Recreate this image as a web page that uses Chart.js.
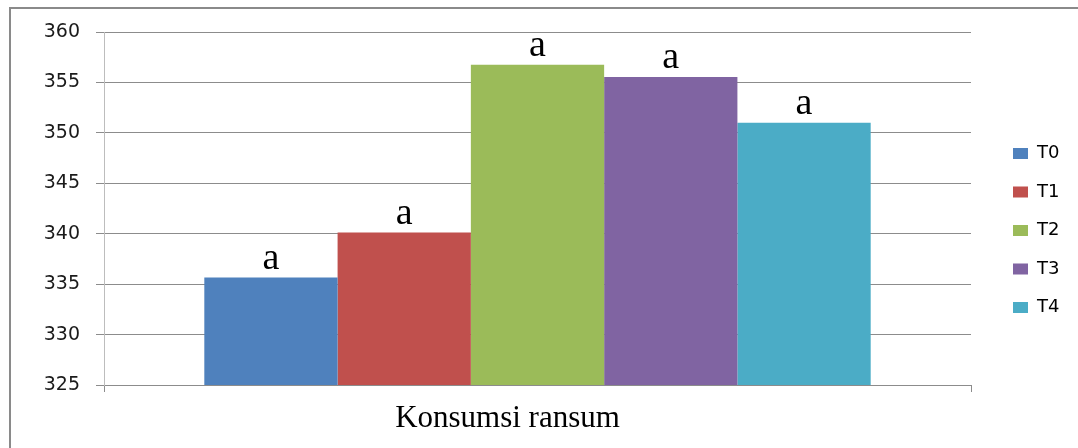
<!DOCTYPE html>
<html><head><meta charset="utf-8">
<script src="https://cdn.jsdelivr.net/npm/chart.js@4"></script>
<style>
html,body{margin:0;padding:0;background:#fff;overflow:hidden;}
canvas{display:block;}
</style></head><body>
<canvas id="c" width="1078" height="448"></canvas>
<script>
// ---- data ----
const categories = ['Konsumsi ransum'];
const seriesNames = ['T0', 'T1', 'T2', 'T3', 'T4'];
const valuesT0 = [335.65];
const valuesT1 = [340.12];
const valuesT2 = [356.76];
const valuesT3 = [355.54];
const valuesT4 = [351.0];
const letterLabels = ['a', 'a', 'a', 'a', 'a'];
const yTickMin = 325, yTickMax = 360, yTickStep = 5;

// ---- styles ----
const seriesColors = ['#4F81BD', '#C0504D', '#9BBB59', '#8064A2', '#4BACC6'];
const allValues = [valuesT0, valuesT1, valuesT2, valuesT3, valuesT4];

const LEG_FONT = 18, LEG_PAD = 20.5, LEG_BOX_X = 1013, LEG_FIRST_CENTER = 153.5, LEG_W = 107;

const framePlugin = {
  id: 'frame',
  beforeDraw(chart) {
    const ctx = chart.ctx;
    ctx.save();
    ctx.fillStyle = '#fff';
    ctx.fillRect(0, 0, chart.width, chart.height);
    ctx.strokeStyle = '#8a8a8a';
    ctx.lineWidth = 2;
    ctx.beginPath();
    ctx.moveTo(10, chart.height + 2);
    ctx.lineTo(10, 8);
    ctx.lineTo(chart.width + 2, 8);
    ctx.stroke();
    ctx.restore();
  }
};

const letterPlugin = {
  id: 'letters',
  afterDatasetsDraw(chart) {
    const ctx = chart.ctx;
    ctx.save();
    ctx.font = '38px "Liberation Serif"';
    ctx.fillStyle = '#000';
    ctx.textAlign = 'center';
    ctx.textBaseline = 'alphabetic';
    chart.data.datasets.forEach((ds, i) => {
      chart.getDatasetMeta(i).data.forEach(el => {
        ctx.fillText(letterLabels[i], el.x, el.y - 9);
      });
    });
    ctx.restore();
  }
};

const legendPlace = {
  id: 'legendPlace',
  afterInit(chart) {
    const lg = chart.legend;
    if (!lg) return;
    const orig = lg.fit.bind(lg);
    lg.fit = function () { orig(); this.width = LEG_W; };
  },
  afterLayout(chart) {
    const lg = chart.legend;
    if (!lg || !lg.columnSizes) return;
    lg.left = LEG_BOX_X - LEG_PAD;
    lg.right = lg.left + lg.width;
    const colH = lg.columnSizes[0].height;
    const T = LEG_FIRST_CENTER - LEG_FONT / 2;
    lg.top = T - LEG_PAD;
    lg.bottom = T + colH;
    lg.height = lg.bottom - lg.top;
  }
};

new Chart(document.getElementById('c'), {
  type: 'bar',
  data: {
    labels: categories,
    datasets: seriesNames.map((n, i) => ({
      label: n,
      data: allValues[i],
      backgroundColor: seriesColors[i],
      borderWidth: 0,
      barPercentage: 1,
      categoryPercentage: 0.7686
    }))
  },
  options: {
    responsive: false,
    animation: false,
    devicePixelRatio: 1,
    layout: { padding: { top: 32, left: 0, right: 0, bottom: 0 } },
    plugins: {
      legend: {
        position: 'right',
        labels: {
          boxWidth: 15, boxHeight: 11, padding: LEG_PAD, color: '#000',
          font: { family: 'DejaVu Sans', size: LEG_FONT }
        }
      },
      tooltip: { enabled: false }
    },
    scales: {
      x: {
        grid: { display: true, drawOnChartArea: false, drawTicks: true, tickLength: 7, color: '#8c8c8c', offset: true },
        border: { display: true, color: '#8c8c8c' },
        ticks: { color: '#000', font: { family: 'Liberation Serif', size: 31 }, padding: 8, labelOffset: -30 },
        afterFit(s) { s.height = 63; }
      },
      y: {
        min: yTickMin, max: yTickMax,
        ticks: { stepSize: yTickStep, color: '#1a1a1a', font: { family: 'DejaVu Sans', size: 19 }, padding: 16 },
        grid: { color: '#8c8c8c', tickLength: 8 },
        border: { color: '#bdbdbd' },
        afterFit(s) { s.width = 104; }
      }
    }
  },
  plugins: [framePlugin, letterPlugin, legendPlace]
});
</script>
</body></html>
